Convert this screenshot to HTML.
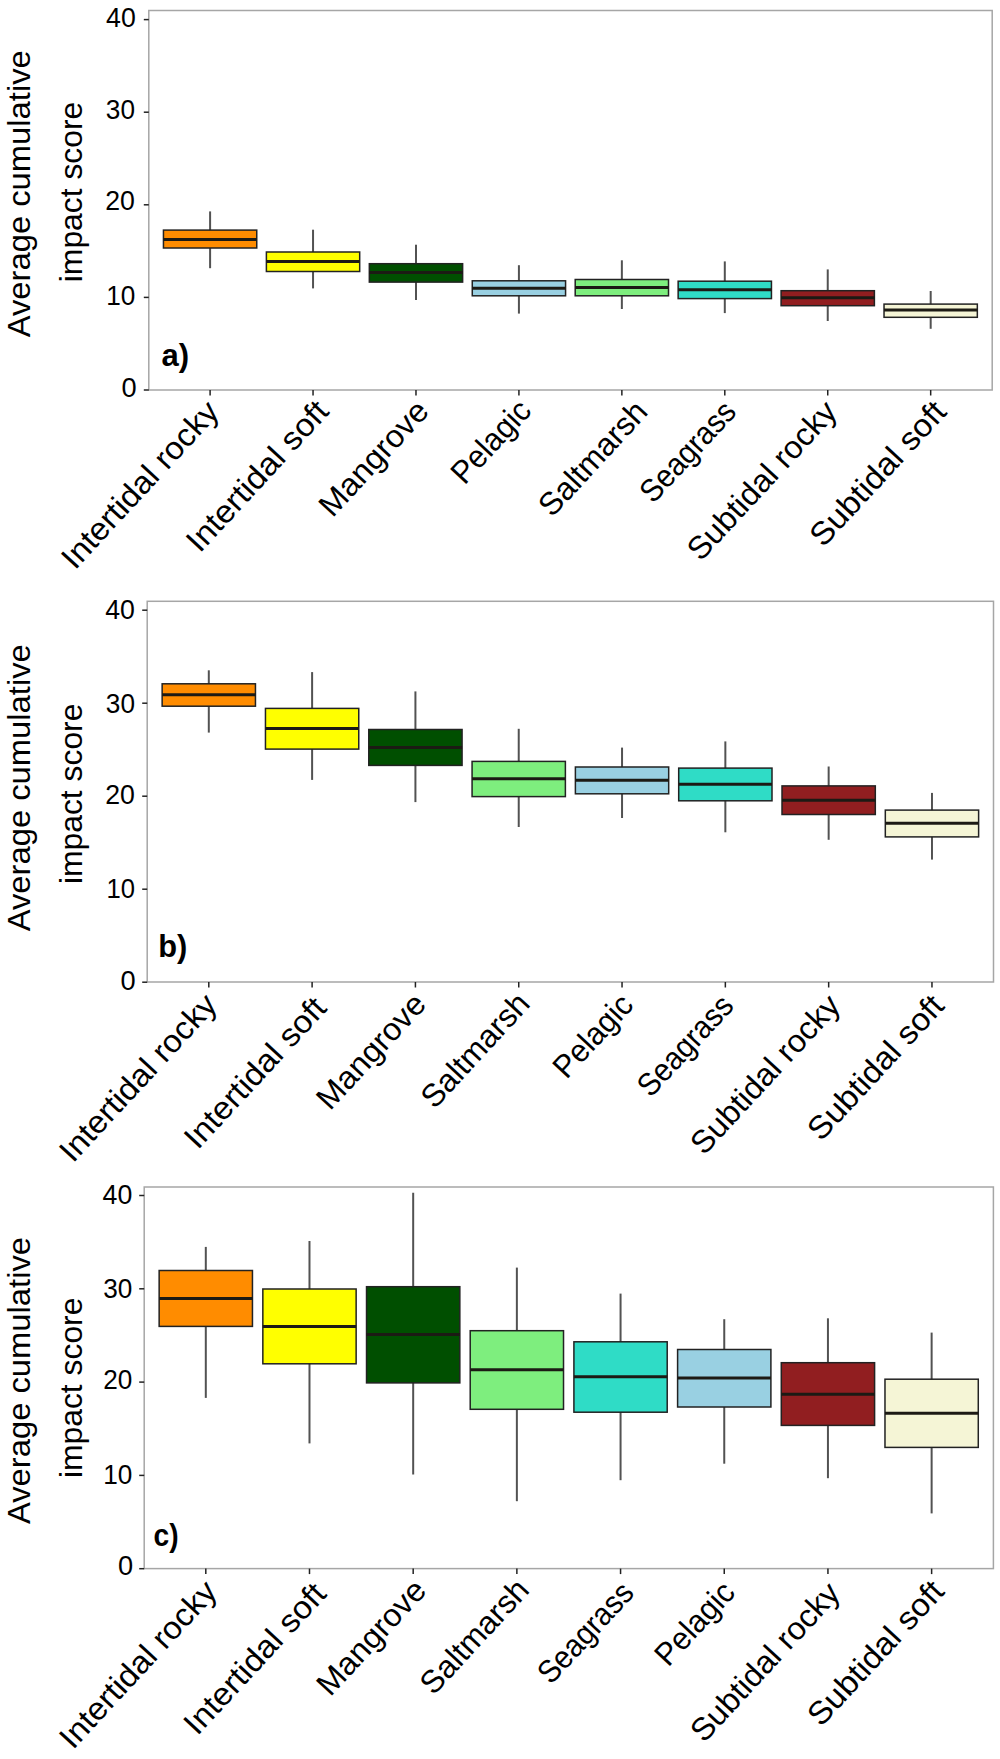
<!DOCTYPE html>
<html><head><meta charset="utf-8"><title>Average cumulative impact score by habitat</title>
<style>
html,body{margin:0;padding:0;background:#fff;}
body{width:1000px;height:1759px;overflow:hidden;font-family:"Liberation Sans", sans-serif;}
svg{display:block;}
text{fill:#000;}
</style></head>
<body>
<svg width="1000" height="1759" viewBox="0 0 1000 1759" font-family='"Liberation Sans", sans-serif'>
<rect width="1000" height="1759" fill="#fff"/>
<rect x="148.80" y="10.50" width="843.40" height="379.50" fill="none" stroke="#a6a6a6" stroke-width="1.5"/>
<line x1="143.80" y1="390.00" x2="148.80" y2="390.00" stroke="#222" stroke-width="1.5"/>
<text x="136.66" y="396.70" font-size="26.96" text-anchor="end" textLength="15.15" lengthAdjust="spacingAndGlyphs">0</text>
<line x1="143.80" y1="297.40" x2="148.80" y2="297.40" stroke="#222" stroke-width="1.5"/>
<text x="135.26" y="304.50" font-size="26.96" text-anchor="end" textLength="29.11" lengthAdjust="spacingAndGlyphs">10</text>
<line x1="143.80" y1="204.80" x2="148.80" y2="204.80" stroke="#222" stroke-width="1.5"/>
<text x="134.96" y="209.80" font-size="26.96" text-anchor="end" textLength="29.70" lengthAdjust="spacingAndGlyphs">20</text>
<line x1="143.80" y1="112.20" x2="148.80" y2="112.20" stroke="#222" stroke-width="1.5"/>
<text x="134.96" y="118.80" font-size="26.96" text-anchor="end" textLength="29.11" lengthAdjust="spacingAndGlyphs">30</text>
<line x1="143.80" y1="19.60" x2="148.80" y2="19.60" stroke="#222" stroke-width="1.5"/>
<text x="135.76" y="26.50" font-size="26.96" text-anchor="end" textLength="29.70" lengthAdjust="spacingAndGlyphs">40</text>
<line x1="210.10" y1="390.00" x2="210.10" y2="395.50" stroke="#222" stroke-width="1.5"/>
<line x1="210.10" y1="211.40" x2="210.10" y2="268.20" stroke="#525252" stroke-width="2"/>
<rect x="163.45" y="230.10" width="93.30" height="17.90" fill="#FF8C00" stroke="#222" stroke-width="1.5"/>
<line x1="163.45" y1="239.60" x2="256.75" y2="239.60" stroke="#1c1a14" stroke-width="3"/>
<text x="220.70" y="413.10" font-size="31.86" text-anchor="end" textLength="214.71" lengthAdjust="spacingAndGlyphs" transform="rotate(-47.25 220.70 413.10)">Intertidal rocky</text>
<line x1="313.04" y1="390.00" x2="313.04" y2="395.50" stroke="#222" stroke-width="1.5"/>
<line x1="313.04" y1="229.70" x2="313.04" y2="288.40" stroke="#525252" stroke-width="2"/>
<rect x="266.39" y="252.00" width="93.30" height="19.50" fill="#FFFF00" stroke="#222" stroke-width="1.5"/>
<line x1="266.39" y1="261.60" x2="359.69" y2="261.60" stroke="#1c1a14" stroke-width="3"/>
<text x="330.34" y="412.70" font-size="31.86" text-anchor="end" textLength="192.25" lengthAdjust="spacingAndGlyphs" transform="rotate(-47.25 330.34 412.70)">Intertidal soft</text>
<line x1="415.98" y1="390.00" x2="415.98" y2="395.50" stroke="#222" stroke-width="1.5"/>
<line x1="415.98" y1="244.70" x2="415.98" y2="300.00" stroke="#525252" stroke-width="2"/>
<rect x="369.33" y="263.70" width="93.30" height="18.40" fill="#004F00" stroke="#222" stroke-width="1.5"/>
<line x1="369.33" y1="272.50" x2="462.63" y2="272.50" stroke="#1c1a14" stroke-width="3"/>
<text x="430.38" y="412.60" font-size="31.86" text-anchor="end" textLength="144.15" lengthAdjust="spacingAndGlyphs" transform="rotate(-47.25 430.38 412.60)">Mangrove</text>
<line x1="518.92" y1="390.00" x2="518.92" y2="395.50" stroke="#222" stroke-width="1.5"/>
<line x1="518.92" y1="265.20" x2="518.92" y2="313.60" stroke="#525252" stroke-width="2"/>
<rect x="472.27" y="280.80" width="93.30" height="15.00" fill="#99D0E2" stroke="#222" stroke-width="1.5"/>
<line x1="472.27" y1="288.30" x2="565.57" y2="288.30" stroke="#1c1a14" stroke-width="3"/>
<text x="532.82" y="411.90" font-size="31.86" text-anchor="end" textLength="100.74" lengthAdjust="spacingAndGlyphs" transform="rotate(-47.25 532.82 411.90)">Pelagic</text>
<line x1="621.86" y1="390.00" x2="621.86" y2="395.50" stroke="#222" stroke-width="1.5"/>
<line x1="621.86" y1="260.30" x2="621.86" y2="309.00" stroke="#525252" stroke-width="2"/>
<rect x="575.21" y="279.50" width="93.30" height="16.30" fill="#7EEE7E" stroke="#222" stroke-width="1.5"/>
<line x1="575.21" y1="287.60" x2="668.51" y2="287.60" stroke="#1c1a14" stroke-width="3"/>
<text x="649.26" y="413.10" font-size="31.86" text-anchor="end" textLength="143.22" lengthAdjust="spacingAndGlyphs" transform="rotate(-47.25 649.26 413.10)">Saltmarsh</text>
<line x1="724.80" y1="390.00" x2="724.80" y2="395.50" stroke="#222" stroke-width="1.5"/>
<line x1="724.80" y1="261.40" x2="724.80" y2="313.10" stroke="#525252" stroke-width="2"/>
<rect x="678.15" y="281.20" width="93.30" height="17.40" fill="#2FDCC6" stroke="#222" stroke-width="1.5"/>
<line x1="678.15" y1="289.80" x2="771.45" y2="289.80" stroke="#1c1a14" stroke-width="3"/>
<text x="737.70" y="413.10" font-size="31.86" text-anchor="end" textLength="124.49" lengthAdjust="spacingAndGlyphs" transform="rotate(-47.25 737.70 413.10)">Seagrass</text>
<line x1="827.74" y1="390.00" x2="827.74" y2="395.50" stroke="#222" stroke-width="1.5"/>
<line x1="827.74" y1="269.40" x2="827.74" y2="321.00" stroke="#525252" stroke-width="2"/>
<rect x="781.09" y="290.70" width="93.30" height="15.00" fill="#911E20" stroke="#222" stroke-width="1.5"/>
<line x1="781.09" y1="297.70" x2="874.39" y2="297.70" stroke="#1c1a14" stroke-width="3"/>
<text x="838.64" y="413.10" font-size="31.86" text-anchor="end" textLength="203.22" lengthAdjust="spacingAndGlyphs" transform="rotate(-47.25 838.64 413.10)">Subtidal rocky</text>
<line x1="930.68" y1="390.00" x2="930.68" y2="395.50" stroke="#222" stroke-width="1.5"/>
<line x1="930.68" y1="291.00" x2="930.68" y2="328.80" stroke="#525252" stroke-width="2"/>
<rect x="884.03" y="304.10" width="93.30" height="13.20" fill="#F5F5D6" stroke="#222" stroke-width="1.5"/>
<line x1="884.03" y1="310.00" x2="977.33" y2="310.00" stroke="#1c1a14" stroke-width="3"/>
<text x="948.08" y="413.10" font-size="31.86" text-anchor="end" textLength="183.91" lengthAdjust="spacingAndGlyphs" transform="rotate(-47.25 948.08 413.10)">Subtidal soft</text>
<text x="29.50" y="193.75" font-size="32.13" text-anchor="middle" textLength="287.19" lengthAdjust="spacingAndGlyphs" transform="rotate(-90 29.50 193.75)">Average cumulative</text>
<text x="82.00" y="191.95" font-size="31.86" text-anchor="middle" textLength="180.54" lengthAdjust="spacingAndGlyphs" transform="rotate(-90 82.00 191.95)">impact score</text>
<text x="161.60" y="365.60" font-size="32.20" font-weight="bold" text-anchor="start" textLength="27.62" lengthAdjust="spacingAndGlyphs">a)</text>
<rect x="147.20" y="601.30" width="846.30" height="380.70" fill="none" stroke="#a6a6a6" stroke-width="1.5"/>
<line x1="142.20" y1="982.20" x2="147.20" y2="982.20" stroke="#222" stroke-width="1.5"/>
<text x="135.66" y="989.80" font-size="26.96" text-anchor="end" textLength="15.15" lengthAdjust="spacingAndGlyphs">0</text>
<line x1="142.20" y1="889.20" x2="147.20" y2="889.20" stroke="#222" stroke-width="1.5"/>
<text x="134.96" y="897.90" font-size="27.54" text-anchor="end" textLength="28.51" lengthAdjust="spacingAndGlyphs">10</text>
<line x1="142.20" y1="796.20" x2="147.20" y2="796.20" stroke="#222" stroke-width="1.5"/>
<text x="134.96" y="803.50" font-size="26.96" text-anchor="end" textLength="29.70" lengthAdjust="spacingAndGlyphs">20</text>
<line x1="142.20" y1="703.20" x2="147.20" y2="703.20" stroke="#222" stroke-width="1.5"/>
<text x="134.96" y="712.70" font-size="26.96" text-anchor="end" textLength="29.11" lengthAdjust="spacingAndGlyphs">30</text>
<line x1="142.20" y1="610.20" x2="147.20" y2="610.20" stroke="#222" stroke-width="1.5"/>
<text x="134.96" y="618.70" font-size="26.96" text-anchor="end" textLength="29.70" lengthAdjust="spacingAndGlyphs">40</text>
<line x1="208.80" y1="982.00" x2="208.80" y2="987.50" stroke="#222" stroke-width="1.5"/>
<line x1="208.80" y1="670.30" x2="208.80" y2="732.60" stroke="#525252" stroke-width="2"/>
<rect x="162.15" y="683.80" width="93.30" height="22.40" fill="#FF8C00" stroke="#222" stroke-width="1.5"/>
<line x1="162.15" y1="694.80" x2="255.45" y2="694.80" stroke="#1c1a14" stroke-width="3"/>
<text x="218.70" y="1006.10" font-size="31.86" text-anchor="end" textLength="214.71" lengthAdjust="spacingAndGlyphs" transform="rotate(-47.25 218.70 1006.10)">Intertidal rocky</text>
<line x1="312.11" y1="982.00" x2="312.11" y2="987.50" stroke="#222" stroke-width="1.5"/>
<line x1="312.11" y1="672.10" x2="312.11" y2="779.90" stroke="#525252" stroke-width="2"/>
<rect x="265.46" y="708.40" width="93.30" height="40.70" fill="#FFFF00" stroke="#222" stroke-width="1.5"/>
<line x1="265.46" y1="728.60" x2="358.76" y2="728.60" stroke="#1c1a14" stroke-width="3"/>
<text x="328.21" y="1009.30" font-size="31.86" text-anchor="end" textLength="192.25" lengthAdjust="spacingAndGlyphs" transform="rotate(-47.25 328.21 1009.30)">Intertidal soft</text>
<line x1="415.42" y1="982.00" x2="415.42" y2="987.50" stroke="#222" stroke-width="1.5"/>
<line x1="415.42" y1="691.40" x2="415.42" y2="802.10" stroke="#525252" stroke-width="2"/>
<rect x="368.77" y="729.50" width="93.30" height="35.90" fill="#004F00" stroke="#222" stroke-width="1.5"/>
<line x1="368.77" y1="747.50" x2="462.07" y2="747.50" stroke="#1c1a14" stroke-width="3"/>
<text x="427.82" y="1005.60" font-size="31.86" text-anchor="end" textLength="144.15" lengthAdjust="spacingAndGlyphs" transform="rotate(-47.25 427.82 1005.60)">Mangrove</text>
<line x1="518.73" y1="982.00" x2="518.73" y2="987.50" stroke="#222" stroke-width="1.5"/>
<line x1="518.73" y1="728.80" x2="518.73" y2="827.00" stroke="#525252" stroke-width="2"/>
<rect x="472.08" y="761.40" width="93.30" height="35.20" fill="#7EEE7E" stroke="#222" stroke-width="1.5"/>
<line x1="472.08" y1="778.80" x2="565.38" y2="778.80" stroke="#1c1a14" stroke-width="3"/>
<text x="531.63" y="1004.90" font-size="31.86" text-anchor="end" textLength="143.22" lengthAdjust="spacingAndGlyphs" transform="rotate(-47.25 531.63 1004.90)">Saltmarsh</text>
<line x1="622.04" y1="982.00" x2="622.04" y2="987.50" stroke="#222" stroke-width="1.5"/>
<line x1="622.04" y1="747.60" x2="622.04" y2="818.00" stroke="#525252" stroke-width="2"/>
<rect x="575.39" y="767.00" width="93.30" height="26.80" fill="#99D0E2" stroke="#222" stroke-width="1.5"/>
<line x1="575.39" y1="780.20" x2="668.69" y2="780.20" stroke="#1c1a14" stroke-width="3"/>
<text x="634.94" y="1006.10" font-size="31.86" text-anchor="end" textLength="100.74" lengthAdjust="spacingAndGlyphs" transform="rotate(-47.25 634.94 1006.10)">Pelagic</text>
<line x1="725.35" y1="982.00" x2="725.35" y2="987.50" stroke="#222" stroke-width="1.5"/>
<line x1="725.35" y1="741.40" x2="725.35" y2="832.30" stroke="#525252" stroke-width="2"/>
<rect x="678.70" y="768.10" width="93.30" height="32.70" fill="#2FDCC6" stroke="#222" stroke-width="1.5"/>
<line x1="678.70" y1="784.30" x2="772.00" y2="784.30" stroke="#1c1a14" stroke-width="3"/>
<text x="735.25" y="1007.10" font-size="31.86" text-anchor="end" textLength="124.49" lengthAdjust="spacingAndGlyphs" transform="rotate(-47.25 735.25 1007.10)">Seagrass</text>
<line x1="828.66" y1="982.00" x2="828.66" y2="987.50" stroke="#222" stroke-width="1.5"/>
<line x1="828.66" y1="766.50" x2="828.66" y2="839.80" stroke="#525252" stroke-width="2"/>
<rect x="782.01" y="785.90" width="93.30" height="28.60" fill="#911E20" stroke="#222" stroke-width="1.5"/>
<line x1="782.01" y1="800.20" x2="875.31" y2="800.20" stroke="#1c1a14" stroke-width="3"/>
<text x="842.06" y="1006.90" font-size="31.86" text-anchor="end" textLength="203.22" lengthAdjust="spacingAndGlyphs" transform="rotate(-47.25 842.06 1006.90)">Subtidal rocky</text>
<line x1="931.97" y1="982.00" x2="931.97" y2="987.50" stroke="#222" stroke-width="1.5"/>
<line x1="931.97" y1="792.90" x2="931.97" y2="859.60" stroke="#525252" stroke-width="2"/>
<rect x="885.32" y="810.10" width="93.30" height="26.80" fill="#F5F5D6" stroke="#222" stroke-width="1.5"/>
<line x1="885.32" y1="823.30" x2="978.62" y2="823.30" stroke="#1c1a14" stroke-width="3"/>
<text x="945.87" y="1007.10" font-size="31.86" text-anchor="end" textLength="183.91" lengthAdjust="spacingAndGlyphs" transform="rotate(-47.25 945.87 1007.10)">Subtidal soft</text>
<text x="29.50" y="787.75" font-size="32.13" text-anchor="middle" textLength="287.19" lengthAdjust="spacingAndGlyphs" transform="rotate(-90 29.50 787.75)">Average cumulative</text>
<text x="82.00" y="793.85" font-size="31.86" text-anchor="middle" textLength="180.54" lengthAdjust="spacingAndGlyphs" transform="rotate(-90 82.00 793.85)">impact score</text>
<text x="158.30" y="956.50" font-size="32.20" font-weight="bold" text-anchor="start" textLength="29.09" lengthAdjust="spacingAndGlyphs">b)</text>
<rect x="144.20" y="1187.00" width="849.20" height="381.60" fill="none" stroke="#a6a6a6" stroke-width="1.5"/>
<line x1="139.20" y1="1568.70" x2="144.20" y2="1568.70" stroke="#222" stroke-width="1.5"/>
<text x="133.16" y="1574.80" font-size="26.96" text-anchor="end" textLength="15.15" lengthAdjust="spacingAndGlyphs">0</text>
<line x1="139.20" y1="1475.40" x2="144.20" y2="1475.40" stroke="#222" stroke-width="1.5"/>
<text x="132.26" y="1483.70" font-size="26.96" text-anchor="end" textLength="29.11" lengthAdjust="spacingAndGlyphs">10</text>
<line x1="139.20" y1="1382.10" x2="144.20" y2="1382.10" stroke="#222" stroke-width="1.5"/>
<text x="132.26" y="1388.90" font-size="26.96" text-anchor="end" textLength="29.11" lengthAdjust="spacingAndGlyphs">20</text>
<line x1="139.20" y1="1288.80" x2="144.20" y2="1288.80" stroke="#222" stroke-width="1.5"/>
<text x="132.26" y="1297.50" font-size="26.96" text-anchor="end" textLength="29.11" lengthAdjust="spacingAndGlyphs">30</text>
<line x1="139.20" y1="1195.50" x2="144.20" y2="1195.50" stroke="#222" stroke-width="1.5"/>
<text x="132.26" y="1203.80" font-size="26.96" text-anchor="end" textLength="29.70" lengthAdjust="spacingAndGlyphs">40</text>
<line x1="205.80" y1="1568.60" x2="205.80" y2="1574.10" stroke="#222" stroke-width="1.5"/>
<line x1="205.80" y1="1246.90" x2="205.80" y2="1397.90" stroke="#525252" stroke-width="2"/>
<rect x="159.15" y="1270.50" width="93.30" height="55.90" fill="#FF8C00" stroke="#222" stroke-width="1.5"/>
<line x1="159.15" y1="1298.40" x2="252.45" y2="1298.40" stroke="#1c1a14" stroke-width="3"/>
<text x="218.70" y="1592.90" font-size="31.86" text-anchor="end" textLength="214.71" lengthAdjust="spacingAndGlyphs" transform="rotate(-47.25 218.70 1592.90)">Intertidal rocky</text>
<line x1="309.49" y1="1568.60" x2="309.49" y2="1574.10" stroke="#222" stroke-width="1.5"/>
<line x1="309.49" y1="1241.00" x2="309.49" y2="1443.40" stroke="#525252" stroke-width="2"/>
<rect x="262.84" y="1289.00" width="93.30" height="74.80" fill="#FFFF00" stroke="#222" stroke-width="1.5"/>
<line x1="262.84" y1="1326.40" x2="356.14" y2="1326.40" stroke="#1c1a14" stroke-width="3"/>
<text x="327.89" y="1595.20" font-size="31.86" text-anchor="end" textLength="192.25" lengthAdjust="spacingAndGlyphs" transform="rotate(-47.25 327.89 1595.20)">Intertidal soft</text>
<line x1="413.18" y1="1568.60" x2="413.18" y2="1574.10" stroke="#222" stroke-width="1.5"/>
<line x1="413.18" y1="1192.80" x2="413.18" y2="1474.40" stroke="#525252" stroke-width="2"/>
<rect x="366.53" y="1286.70" width="93.30" height="96.20" fill="#004F00" stroke="#222" stroke-width="1.5"/>
<line x1="366.53" y1="1334.50" x2="459.83" y2="1334.50" stroke="#1c1a14" stroke-width="3"/>
<text x="428.08" y="1591.70" font-size="31.86" text-anchor="end" textLength="144.15" lengthAdjust="spacingAndGlyphs" transform="rotate(-47.25 428.08 1591.70)">Mangrove</text>
<line x1="516.87" y1="1568.60" x2="516.87" y2="1574.10" stroke="#222" stroke-width="1.5"/>
<line x1="516.87" y1="1267.60" x2="516.87" y2="1501.20" stroke="#525252" stroke-width="2"/>
<rect x="470.22" y="1330.70" width="93.30" height="78.60" fill="#7EEE7E" stroke="#222" stroke-width="1.5"/>
<line x1="470.22" y1="1369.70" x2="563.52" y2="1369.70" stroke="#1c1a14" stroke-width="3"/>
<text x="530.77" y="1591.20" font-size="31.86" text-anchor="end" textLength="143.22" lengthAdjust="spacingAndGlyphs" transform="rotate(-47.25 530.77 1591.20)">Saltmarsh</text>
<line x1="620.56" y1="1568.60" x2="620.56" y2="1574.10" stroke="#222" stroke-width="1.5"/>
<line x1="620.56" y1="1293.60" x2="620.56" y2="1480.20" stroke="#525252" stroke-width="2"/>
<rect x="573.91" y="1341.80" width="93.30" height="70.40" fill="#2FDCC6" stroke="#222" stroke-width="1.5"/>
<line x1="573.91" y1="1376.80" x2="667.21" y2="1376.80" stroke="#1c1a14" stroke-width="3"/>
<text x="635.46" y="1594.20" font-size="31.86" text-anchor="end" textLength="124.49" lengthAdjust="spacingAndGlyphs" transform="rotate(-47.25 635.46 1594.20)">Seagrass</text>
<line x1="724.25" y1="1568.60" x2="724.25" y2="1574.10" stroke="#222" stroke-width="1.5"/>
<line x1="724.25" y1="1319.20" x2="724.25" y2="1463.70" stroke="#525252" stroke-width="2"/>
<rect x="677.60" y="1349.50" width="93.30" height="57.50" fill="#99D0E2" stroke="#222" stroke-width="1.5"/>
<line x1="677.60" y1="1377.90" x2="770.90" y2="1377.90" stroke="#1c1a14" stroke-width="3"/>
<text x="736.65" y="1593.70" font-size="31.86" text-anchor="end" textLength="100.74" lengthAdjust="spacingAndGlyphs" transform="rotate(-47.25 736.65 1593.70)">Pelagic</text>
<line x1="827.94" y1="1568.60" x2="827.94" y2="1574.10" stroke="#222" stroke-width="1.5"/>
<line x1="827.94" y1="1318.30" x2="827.94" y2="1478.20" stroke="#525252" stroke-width="2"/>
<rect x="781.29" y="1362.70" width="93.30" height="62.70" fill="#911E20" stroke="#222" stroke-width="1.5"/>
<line x1="781.29" y1="1394.20" x2="874.59" y2="1394.20" stroke="#1c1a14" stroke-width="3"/>
<text x="841.84" y="1594.50" font-size="31.86" text-anchor="end" textLength="203.22" lengthAdjust="spacingAndGlyphs" transform="rotate(-47.25 841.84 1594.50)">Subtidal rocky</text>
<line x1="931.63" y1="1568.60" x2="931.63" y2="1574.10" stroke="#222" stroke-width="1.5"/>
<line x1="931.63" y1="1332.60" x2="931.63" y2="1513.40" stroke="#525252" stroke-width="2"/>
<rect x="884.98" y="1379.20" width="93.30" height="68.20" fill="#F5F5D6" stroke="#222" stroke-width="1.5"/>
<line x1="884.98" y1="1413.30" x2="978.28" y2="1413.30" stroke="#1c1a14" stroke-width="3"/>
<text x="945.83" y="1592.70" font-size="31.86" text-anchor="end" textLength="183.91" lengthAdjust="spacingAndGlyphs" transform="rotate(-47.25 945.83 1592.70)">Subtidal soft</text>
<text x="29.50" y="1380.50" font-size="32.13" text-anchor="middle" textLength="287.19" lengthAdjust="spacingAndGlyphs" transform="rotate(-90 29.50 1380.50)">Average cumulative</text>
<text x="82.00" y="1387.85" font-size="31.86" text-anchor="middle" textLength="180.54" lengthAdjust="spacingAndGlyphs" transform="rotate(-90 82.00 1387.85)">impact score</text>
<text x="153.50" y="1545.80" font-size="32.20" font-weight="bold" text-anchor="start" textLength="25.04" lengthAdjust="spacingAndGlyphs">c)</text>
</svg>
</body></html>
